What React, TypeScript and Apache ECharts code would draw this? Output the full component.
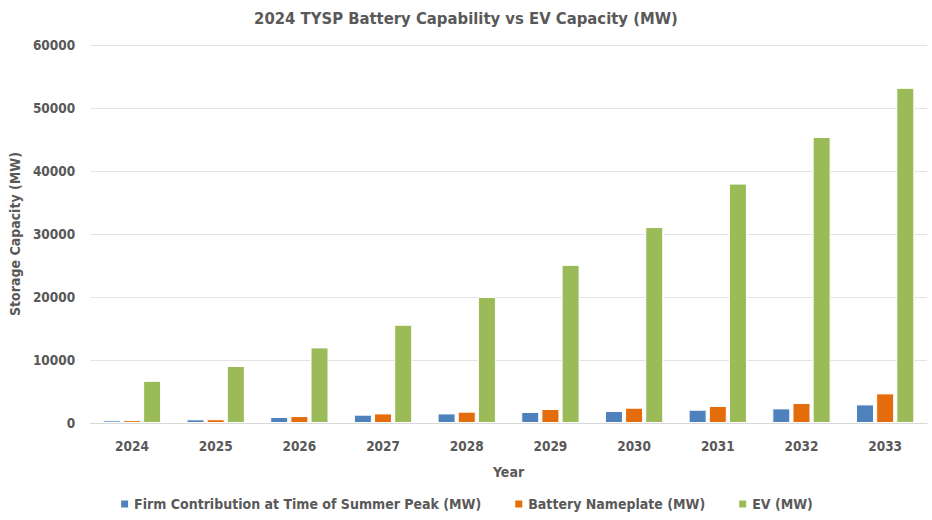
import React, { useEffect, useRef } from "react";
import * as echarts from "echarts";

const years = ["2024", "2025", "2026", "2027", "2028", "2029", "2030", "2031", "2032", "2033"];
const firmContribution = [420, 580, 950, 1320, 1520, 1750, 1900, 2110, 2320, 2950];
const batteryNameplate = [450, 600, 1100, 1520, 1800, 2220, 2430, 2700, 3170, 4700];
const evCapacity = [6700, 9050, 12000, 15600, 20000, 25100, 31100, 38000, 45400, 53200];

const FONT = "'DejaVu Sans Condensed', Lato, sans-serif";
const TXT = "#595959";

export default function App() {
  const ref = useRef<HTMLDivElement>(null);
  useEffect(() => {
    document.body.style.margin = "0";
    if (!ref.current) return;
    const chart = echarts.init(ref.current, null, { renderer: "svg" });
    const barStyle = (color: string) => ({ color, borderColor: "#ffffff", borderWidth: 1 });
    chart.setOption({
      animation: false,
      textStyle: { fontFamily: FONT },
      title: {
        text: "2024 TYSP Battery Capability vs EV Capacity (MW)",
        left: "center",
        top: 5,
        textStyle: { fontFamily: FONT, fontSize: 16.5, fontWeight: "bold", color: TXT },
      },
      legend: {
        bottom: 4,
        left: "center",
        itemWidth: 9,
        itemHeight: 9,
        itemGap: 32,
        icon: "rect",
        textStyle: { fontFamily: FONT, fontSize: 14, fontWeight: "bold", color: TXT },
      },
      grid: { left: 87, right: 5, top: 45, bottom: 97, containLabel: false },
      xAxis: {
        type: "category",
        data: years,
        name: "Year",
        nameLocation: "middle",
        nameGap: 42,
        nameTextStyle: { fontFamily: FONT, fontSize: 14, fontWeight: "bold", color: TXT },
        axisLine: { lineStyle: { color: "#d9d9d9" } },
        axisTick: { show: false },
        axisLabel: { fontFamily: FONT, fontSize: 13.5, fontWeight: "bold", color: TXT, margin: 16 },
      },
      yAxis: {
        type: "value",
        min: 0,
        max: 60000,
        interval: 10000,
        name: "Storage Capacity (MW)",
        nameLocation: "middle",
        nameGap: 68,
        nameTextStyle: { fontFamily: FONT, fontSize: 14, fontWeight: "bold", color: TXT },
        axisLine: { show: false },
        axisTick: { show: false },
        splitLine: { lineStyle: { color: "#e3e3e3" } },
        axisLabel: {
          fontFamily: FONT,
          fontSize: 13.5,
          fontWeight: "bold",
          color: TXT,
          margin: 15,
          formatter: (v: number) => String(v),
        },
      },
      series: [
        {
          name: "Firm Contribution at Time of Summer Peak (MW)",
          type: "bar",
          data: firmContribution,
          barWidth: 18,
          barGap: "12%",
          itemStyle: barStyle("#4F81BD"),
        },
        {
          name: "Battery Nameplate (MW)",
          type: "bar",
          data: batteryNameplate,
          barWidth: 18,
          barGap: "12%",
          itemStyle: barStyle("#E46C0A"),
        },
        {
          name: "EV (MW)",
          type: "bar",
          data: evCapacity,
          barWidth: 18,
          barGap: "12%",
          itemStyle: barStyle("#9BBB59"),
        },
      ],
    });
    return () => chart.dispose();
  }, []);
  return <div ref={ref} style={{ width: 932, height: 520 }} />;
}
